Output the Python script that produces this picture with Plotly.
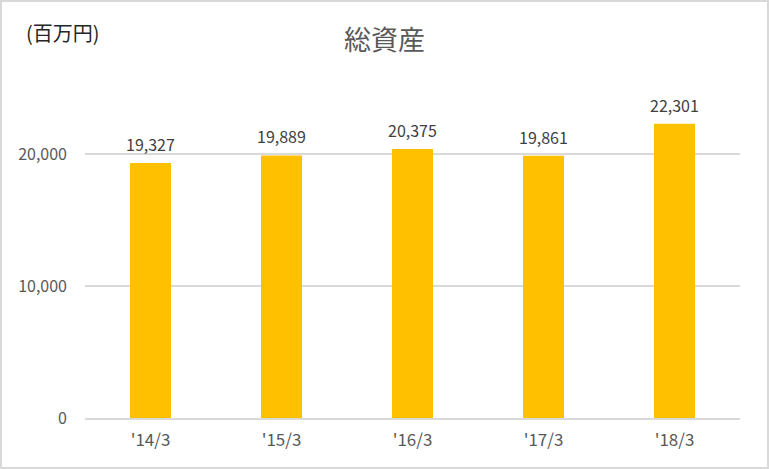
import plotly.graph_objects as go

# data
periods = ["'14/3", "'15/3", "'16/3", "'17/3", "'18/3"]
total_assets = [19327, 19889, 20375, 19861, 22301]
y_ticks = [0, 10000, 20000]

W, H = 769, 469
ml, mr, mt, mb = 85, 29, 88, 51
pw = W - ml - mr
ph = H - mt - mb

fig = go.Figure()
fig.add_trace(go.Bar(
    x=periods,
    y=total_assets,
    marker=dict(color="#FFC000", line_width=0),
    width=0.313,
    cliponaxis=False,
))

# value labels above the bars
labels = [dict(x=p, y=v, text=f"{v:,}", xref="x", yref="y",
               yanchor="bottom", yshift=5, showarrow=False,
               font=dict(size=16, color="#404040"))
          for p, v in zip(periods, total_assets)]

labels.append(dict(text="(百万円)", xref="paper", yref="paper",
                   x=-(ml - 24) / pw, y=1 + (mt - 32) / ph,
                   xanchor="left", yanchor="middle", showarrow=False,
                   font=dict(size=20, color="#262626")))

fig.update_layout(
    width=W, height=H,
    margin=dict(l=ml, r=mr, t=mt, b=mb),
    paper_bgcolor="white",
    plot_bgcolor="white",
    font=dict(family="Noto Sans CJK JP, Noto Sans, sans-serif", color="#595959", size=16),
    title=dict(text="総資産", x=0.5, xanchor="center", y=1 - 41 / H, yanchor="middle",
               font=dict(size=27, color="#595959")),
    showlegend=False,
    xaxis=dict(showgrid=False, showline=True, linecolor="#D9D9D9", linewidth=1.5,
               ticks="", ticklabelstandoff=6, tickfont=dict(size=17, color="#595959")),
    yaxis=dict(range=[0, 25000], tickvals=y_ticks, tickformat=",d",
               showgrid=True, gridcolor="#D9D9D9", gridwidth=1.5,
               zeroline=False, showline=False, ticks="",
               ticklabelstandoff=17,
               tickfont=dict(size=16, color="#595959")),
    annotations=labels,
    shapes=[dict(type="rect", xref="paper", yref="paper",
                 x0=-(ml - 1) / pw, x1=1 + (mr - 1) / pw,
                 y0=-(mb - 1) / ph, y1=1 + (mt - 1) / ph,
                 line=dict(color="#D9D9D9", width=2))],
)

fig.write_html("out.html", config={"displayModeBar": False},
               post_script="document.body.style.margin='0';")
